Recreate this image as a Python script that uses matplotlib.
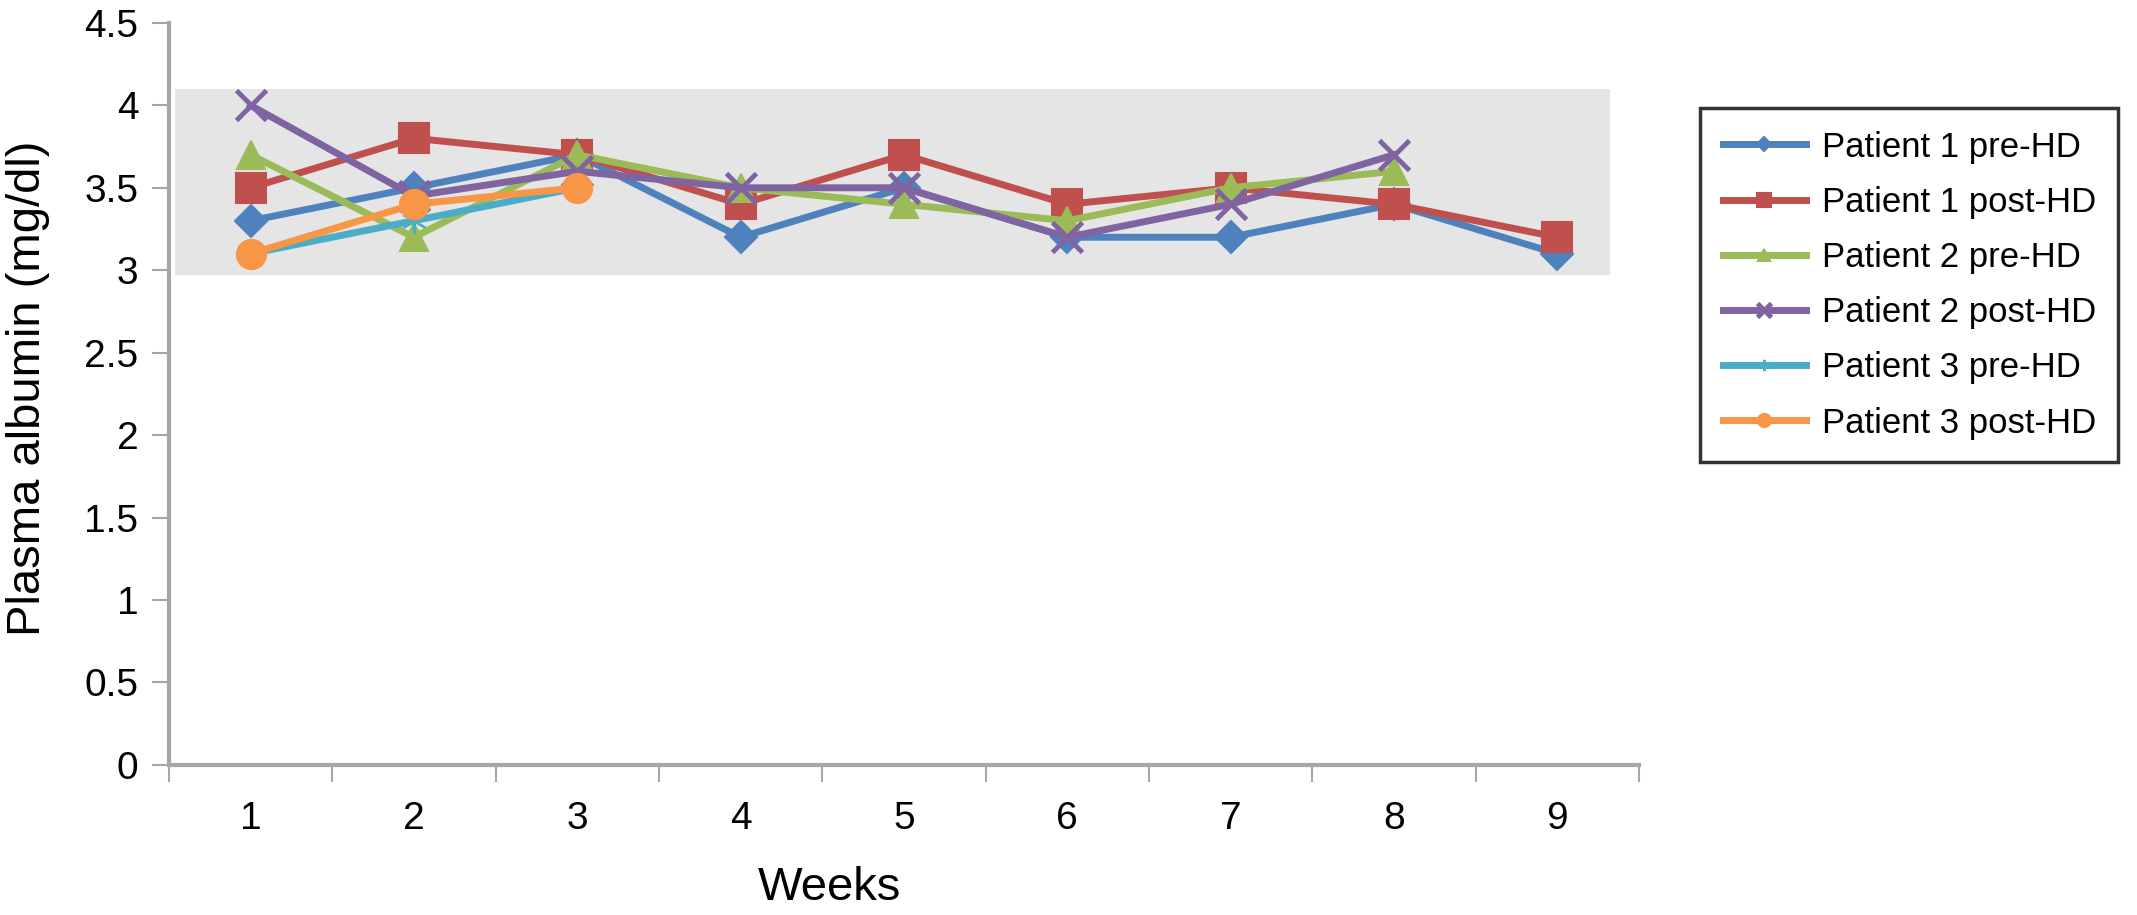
import matplotlib
matplotlib.use("Agg")
import matplotlib.pyplot as plt
from matplotlib.ticker import FixedLocator, NullFormatter, FixedFormatter

plt.rcParams['font.family'] = ['Liberation Sans', 'DejaVu Sans']

weeks = [1, 2, 3, 4, 5, 6, 7, 8, 9]
p1_pre = [3.3, 3.5, 3.7, 3.2, 3.5, 3.2, 3.2, 3.4, 3.1]
p1_post = [3.5, 3.8, 3.7, 3.4, 3.7, 3.4, 3.5, 3.4, 3.2]
p2_pre = [3.7, 3.2, 3.7, 3.5, 3.4, 3.3, 3.5, 3.6]
p2_post = [4.0, 3.45, 3.6, 3.5, 3.5, 3.2, 3.4, 3.7]
p3_pre = [3.1, 3.3, 3.5]
p3_post = [3.1, 3.4, 3.5]

labels = ["Patient 1 pre-HD", "Patient 1 post-HD", "Patient 2 pre-HD",
          "Patient 2 post-HD", "Patient 3 pre-HD", "Patient 3 post-HD"]
series = [p1_pre, p1_post, p2_pre, p2_post, p3_pre, p3_post]
colors = ["#4F81BD", "#C0504D", "#9BBB59", "#8064A2", "#4BACC6", "#F79646"]
markers = ["D", "s", "^", "x", (6, 2, 0), "o"]
msizes = [16, 22, 20, 22, 18, 21]

# normal range band
band_lo, band_hi = 2.97, 4.1

fig = plt.figure(figsize=(21.37, 9.15), dpi=100)
ax = fig.add_axes([0.079, 0.164, 0.688, 0.811])

ax.axhspan(band_lo, band_hi, xmin=0.004, xmax=0.98, color="#E5E5E5", zorder=0, lw=0)

for vals, lab, c, m, ms in zip(series, labels, colors, markers, msizes):
    ax.plot(weeks[:len(vals)], vals, color=c, lw=5, marker=m, ms=ms,
            mew=3.5 if m == "x" else 1.5, label=lab, zorder=3)

ax.set_xlim(0.5, 9.5)
ax.set_ylim(0, 4.5)
ax.set_yticks([0, 0.5, 1, 1.5, 2, 2.5, 3, 3.5, 4, 4.5])
ax.set_yticklabels(["0", "0.5", "1", "1.5", "2", "2.5", "3", "3.5", "4", "4.5"])

# x ticks at category boundaries, labels in between
ax.xaxis.set_major_locator(FixedLocator([w + 0.5 for w in [0] + weeks]))
ax.xaxis.set_major_formatter(NullFormatter())
ax.xaxis.set_minor_locator(FixedLocator(weeks))
ax.xaxis.set_minor_formatter(FixedFormatter([str(w) for w in weeks]))
ax.tick_params(axis='x', which='minor', length=0, pad=26, labelsize=28)
ax.tick_params(axis='x', which='major', length=12, width=1.5, color="#A6A6A6")
ax.tick_params(axis='y', length=12, width=1.5, color="#A6A6A6", labelsize=28, pad=10)

for s in ["top", "right"]:
    ax.spines[s].set_visible(False)
for s in ["left", "bottom"]:
    ax.spines[s].set_color("#A6A6A6")
    ax.spines[s].set_linewidth(3)

fig.text(0.013, 0.576, "Plasma albumin (mg/dl)", rotation=90, fontsize=34,
         ha="center", va="center")
fig.text(0.388, 0.029, "Weeks", fontsize=34, ha="center", va="center")

leg = ax.legend(loc="upper left", bbox_to_anchor=(0.7955, 0.882),
                bbox_transform=fig.transFigure, fontsize=25, frameon=True,
                fancybox=False, edgecolor="black", markerscale=0.45,
                handlelength=2.4, labelspacing=0.64, borderpad=0.65,
                handletextpad=0.45, borderaxespad=0)
leg.get_frame().set_linewidth(2.5)

fig.savefig("out.png", dpi=100)
